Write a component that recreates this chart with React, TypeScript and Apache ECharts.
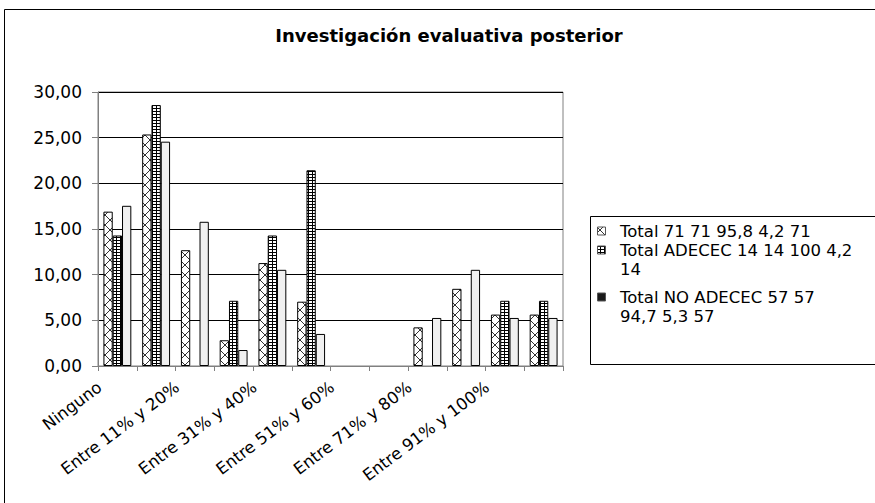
import React, { useEffect, useRef } from 'react';
import * as echarts from 'echarts';

const titleText = 'Investigación evaluativa posterior';
const categories = [
  'Ninguno',
  'Entre 1% y 10%',
  'Entre 11% y 20%',
  'Entre 21% y 30%',
  'Entre 31% y 40%',
  'Entre 41% y 50%',
  'Entre 51% y 60%',
  'Entre 61% y 70%',
  'Entre 71% y 80%',
  'Entre 81% y 90%',
  'Entre 91% y 100%',
  'NS/NC',
];
const seriesNames = [
  'Total 71 71 95,8 4,2 71',
  'Total ADECEC 14 14 100 4,2 14',
  'Total NO ADECEC 57 57 94,7 5,3 57',
];
const legendLines = [
  ['Total 71 71 95,8 4,2 71'],
  ['Total ADECEC 14 14 100 4,2', '14'],
  ['Total NO ADECEC 57 57', '94,7 5,3 57'],
];
const totalValues = [16.9, 25.35, 12.68, 2.82, 11.27, 7.04, 0, 0, 4.23, 8.45, 5.63, 5.63];
const adececValues = [14.29, 28.57, 0, 7.14, 14.29, 21.43, 0, 0, 0, 0, 7.14, 7.14];
const noAdececValues = [17.54, 24.56, 15.79, 1.75, 10.53, 3.51, 0, 0, 5.26, 10.53, 5.26, 5.26];
const yMin = 0;
const yMax = 30;
const yStep = 5;

function crossCanvas() {
  const c = document.createElement('canvas');
  c.width = 10;
  c.height = 10;
  const ctx = c.getContext('2d')!;
  ctx.fillStyle = '#ffffff';
  ctx.fillRect(0, 0, 10, 10);
  ctx.strokeStyle = '#333333';
  ctx.lineWidth = 1;
  ctx.beginPath();
  ctx.moveTo(0, 0);
  ctx.lineTo(10, 10);
  ctx.moveTo(10, 0);
  ctx.lineTo(0, 10);
  ctx.stroke();
  return c;
}

function ladderCanvas() {
  const c = document.createElement('canvas');
  c.width = 4;
  c.height = 3;
  const ctx = c.getContext('2d')!;
  ctx.fillStyle = '#000000';
  ctx.fillRect(0, 0, 4, 3);
  ctx.fillStyle = '#ffffff';
  ctx.fillRect(1, 1, 3, 2);
  return c;
}

export default function App() {
  const ref = useRef<HTMLDivElement>(null);
  useEffect(() => {
    if (!ref.current) return;
    const chart = echarts.init(ref.current, null, { renderer: 'svg' });
    const cross = crossCanvas();
    const ladder = ladderCanvas();
    const crossPat: any = { image: cross, repeat: 'repeat', imageWidth: 10, imageHeight: 10 };
    const ladderPat: any = { image: ladder, repeat: 'repeat', imageWidth: 4, imageHeight: 3 };
    const fills = [crossPat, ladderPat, '#f0f0f0'];
    const iconFills = [crossPat, ladderPat, '#1a1a1a'];
    const allValues = [totalValues, adececValues, noAdececValues];
    const font = '"DejaVu Sans", sans-serif';

    const legendX = 590;
    const legendY = 216;
    const itemCenters = [231, 250, 297];
    const lineGap = 19;
    const legendChildren: any[] = [
      {
        type: 'rect',
        shape: { x: legendX + 0.5, y: legendY + 0.5, width: 320, height: 148 },
        style: { fill: '#ffffff', stroke: '#000000', lineWidth: 1 },
      },
    ];
    legendLines.forEach((lines, i) => {
      legendChildren.push({
        type: 'rect',
        shape: { x: 597.5, y: itemCenters[i] - 4, width: 8, height: 8 },
        style: { fill: iconFills[i], stroke: '#555555', lineWidth: 1 },
      });
      lines.forEach((t, j) => {
        legendChildren.push({
          type: 'text',
          style: {
            text: t,
            x: 620,
            y: itemCenters[i] + j * lineGap,
            font: '16.5px "DejaVu Sans", sans-serif',
            fill: '#000000',
            textAlign: 'left',
            textVerticalAlign: 'middle',
          },
        });
      });
    });

    chart.setOption({
      animation: false,
      backgroundColor: '#ffffff',
      title: {
        text: titleText,
        left: 449,
        textAlign: 'center',
        top: 26,
        padding: 0,
        textStyle: { fontFamily: font, fontSize: 18, fontWeight: 'bold', color: '#000000' },
      },
      grid: {
        left: 98,
        top: 92,
        right: 312,
        bottom: 137,
        show: true,
        borderColor: '#808080',
        borderWidth: 1,
        backgroundColor: 'transparent',
      },
      xAxis: {
        type: 'category',
        data: categories,
        axisLine: { lineStyle: { color: '#808080', width: 1 } },
        axisTick: { show: true, alignWithLabel: false, interval: 0, length: 5, lineStyle: { color: '#808080' } },
        axisLabel: {
          interval: 1,
          rotate: 37,
          margin: 6,
          padding: [0, 22, 0, 0],
          fontFamily: font,
          fontSize: 16.5,
          color: '#000000',
        },
      },
      yAxis: {
        type: 'value',
        min: yMin,
        max: yMax,
        interval: yStep,
        axisLine: { show: true, lineStyle: { color: '#808080' } },
        axisTick: { show: true, length: 6, lineStyle: { color: '#808080' } },
        splitLine: { lineStyle: { color: '#000000', width: 1 } },
        axisLabel: {
          margin: 16,
          formatter: (v: number) => v.toFixed(2).replace('.', ','),
          fontFamily: font,
          fontSize: 17,
          color: '#000000',
        },
      },
      series: seriesNames.map((name, i) => ({
        name,
        type: 'bar',
        data: allValues[i].map((v) =>
          v === 0 ? { value: v, itemStyle: { borderWidth: 0, opacity: 0 } } : v
        ),
        barGap: '0%',
        barCategoryGap: '28%',
        itemStyle: { color: fills[i], borderColor: '#000000', borderWidth: 1 },
      })),
      graphic: [
        {
          type: 'rect',
          z: 100,
          shape: { x: 4.5, y: 9.5, width: 900, height: 600 },
          style: { fill: 'none', stroke: '#000000', lineWidth: 1 },
          silent: true,
        },
        { type: 'group', children: legendChildren },
      ],
    });
    return () => chart.dispose();
  }, []);
  return (
    <div
      ref={ref}
      style={{ position: 'fixed', left: 0, top: 0, width: 875, height: 503 }}
    />
  );
}
